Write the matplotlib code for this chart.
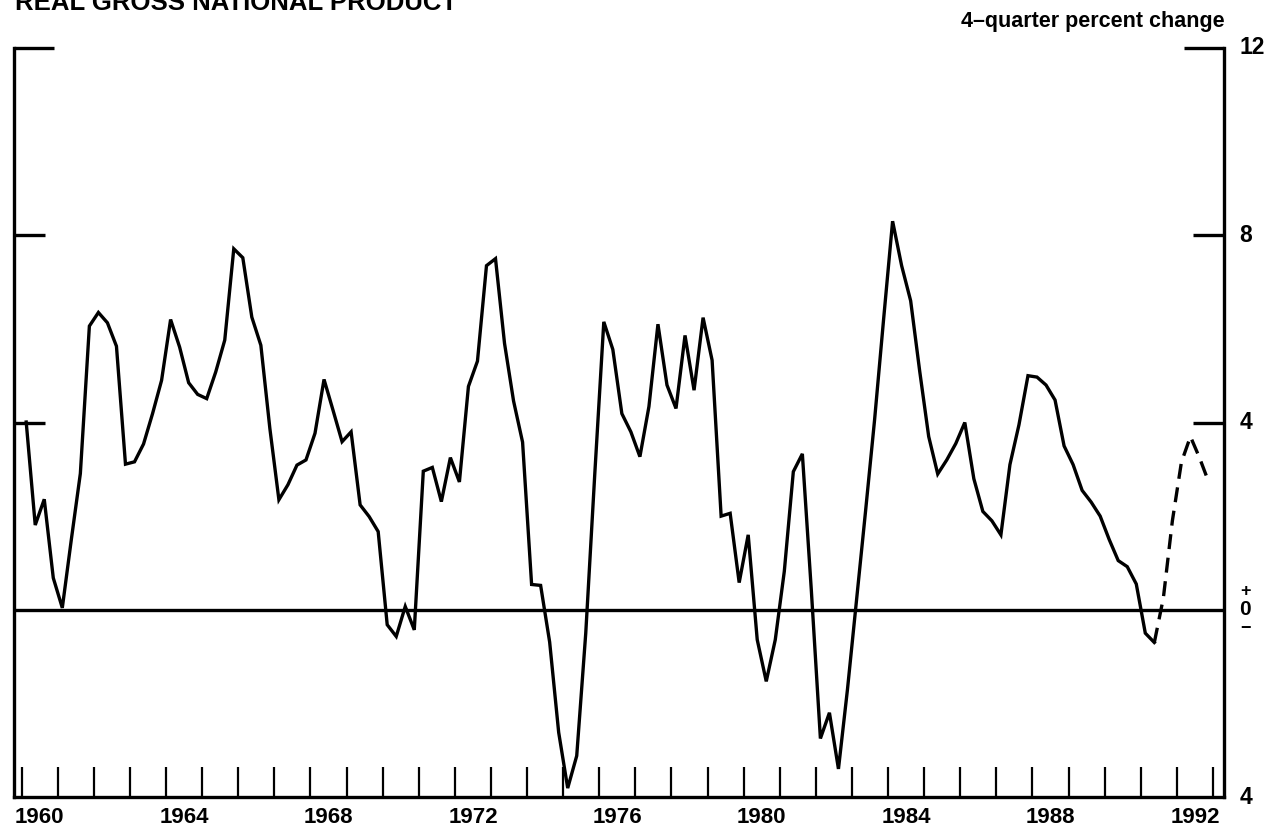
import matplotlib
matplotlib.use("Agg")
import matplotlib.pyplot as plt
import matplotlib.transforms as mtransforms
import numpy as np

plt.rcParams['font.family'] = ['Liberation Sans', 'DejaVu Sans']

# ---------------- data (4-quarter percent change, quarterly from 1960Q1) -------------
start_year = 1960
actual = [4.01, 1.81, 2.36, 0.68, 0.04, 1.5, 2.91, 6.06, 6.35, 6.13, 5.63, 3.11,
          3.16, 3.54, 4.19, 4.9, 6.2, 5.61, 4.85, 4.6, 4.51, 5.08, 5.76, 7.71,
          7.52, 6.25, 5.65, 3.87, 2.35, 2.67, 3.09, 3.2, 3.77, 4.92, 4.26, 3.59,
          3.8, 2.24, 1.99, 1.67, -0.32, -0.57, 0.07, -0.43, 2.96, 3.04, 2.31, 3.25,
          2.73, 4.77, 5.31, 7.35, 7.50, 5.69, 4.46, 3.58, 0.54, 0.52, -0.69, -2.62,
          -3.81, -3.12, -0.5, 2.9, 6.15, 5.56, 4.19, 3.80, 3.27, 4.34, 6.10, 4.80,
          4.30, 5.86, 4.69, 6.24, 5.33, 2.00, 2.06, 0.58, 1.60, -0.64, -1.53, -0.64,
          0.82, 2.95, 3.33, 0.4, -2.75, -2.2, -3.4, -1.7, 0.2, 2.1, 4.05, 6.2,
          8.3, 7.35, 6.6, 5.1, 3.7, 2.9, 3.2, 3.55, 4.0, 2.8, 2.1, 1.9,
          1.6, 3.1, 3.95, 5.0, 4.97, 4.8, 4.48, 3.5, 3.1, 2.55, 2.3, 2.0,
          1.5, 1.05, 0.92, 0.55, -0.5, -0.7]
projection = [-0.7, 0.25, 1.9, 3.15, 3.7, 3.25, 2.74]   # starts at last actual quarter

year_labels = ['1960', '1964', '1968', '1972', '1976', '1980', '1984', '1988', '1992']
year_label_pos = [1960, 1964, 1968, 1972, 1976, 1980, 1984, 1988, 1992]
year_ticks = list(range(1960, 1994))
right_tick_vals = [12, 8, 4, -4]
right_tick_text = ['12', '8', '4', '4']
title = 'REAL GROSS NATIONAL PRODUCT'
unit_label = '4\u2013quarter percent change'

# ---------------- figure -------------
fig = plt.figure(figsize=(12.70, 8.32), dpi=100)
ax = fig.add_axes([14/1270, 1-797/832, (1224-14)/1270, (797-48)/832])

n_act = len(actual)
x_act = start_year + (np.arange(n_act) + 0.5) / 4.0
x_proj = start_year + (np.arange(n_act - 1, n_act - 1 + len(projection)) + 0.5) / 4.0

ax.plot(x_act, actual, color='black', lw=2.4, solid_joinstyle='miter', zorder=3)
ax.plot(x_proj, projection, color='black', lw=2.4, dashes=(4.5, 2.6), zorder=3)
ax.axhline(0, color='black', lw=2.4, zorder=2)

ax.set_xlim(1959.787, 1993.305)
ax.set_ylim(-4, 12)

for s in ['left', 'right', 'bottom']:
    ax.spines[s].set_linewidth(2.4)
ax.spines['top'].set_visible(False)

# x ticks: year boundaries, inward
ax.set_xticks(year_ticks)
ax.set_xticklabels([])
ax.tick_params(axis='x', which='major', direction='in', length=21.5, width=1.6,
               bottom=True, top=False)
ax.set_xticks([p + 0.5 for p in year_label_pos], minor=True)
ax.set_xticklabels(year_labels, minor=True, fontsize=16, fontweight='bold')
ax.tick_params(axis='x', which='minor', length=0, pad=7.5)

# y ticks: inward on both sides, no default labels
ax.set_yticks([4, 8])
ax.set_yticks([12], minor=True)
ax.yaxis.set_ticks_position('both')
ax.tick_params(axis='y', which='major', direction='in', length=22.3, width=2.4,
               left=True, right=True, labelleft=False, labelright=False)
ax.tick_params(axis='y', which='minor', direction='in', length=29, width=2.4,
               left=True, right=True, labelleft=False, labelright=False)

trans = mtransforms.blended_transform_factory(ax.transAxes, ax.transData)
for v, t in zip(right_tick_vals, right_tick_text):
    ax.text(1.0125, v, t, transform=trans, ha='left', va='center',
            fontsize=16.5, fontweight='bold')
# +0- marker
ax.text(1.0175, 0.40, '+', transform=trans, ha='center', va='center', fontsize=13, fontweight='bold')
ax.text(1.0175, 0.0, '0', transform=trans, ha='center', va='center', fontsize=15, fontweight='bold')
ax.text(1.0175, -0.40, '\u2212', transform=trans, ha='center', va='center', fontsize=13, fontweight='bold')

fig.text(15/1270, 1 - 10/832, title, ha='left', va='baseline', fontsize=18.5, fontweight='bold')
fig.text(1225/1270, 1 - 22/832, unit_label, ha='right', va='center', fontsize=15.5, fontweight='bold')

fig.savefig('out.png', dpi=100)
